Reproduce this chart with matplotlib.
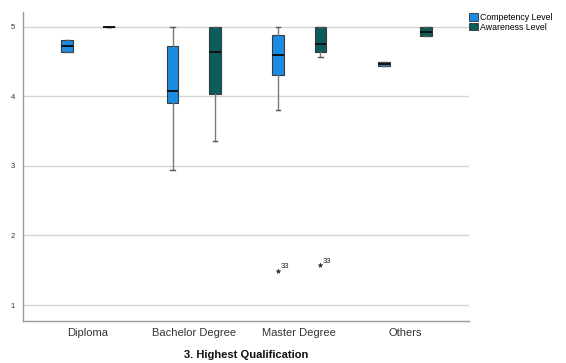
import matplotlib
matplotlib.use("Agg")
import matplotlib.pyplot as plt
from matplotlib.patches import Patch

plt.rcParams['font.family'] = ['Liberation Sans', 'DejaVu Sans']

categories = ["Diploma", "Bachelor Degree", "Master Degree", "Others"]
series = ["Competency Level", "Awareness Level"]
colors = ["#1a8de3", "#0a5d5b"]

# five-number summaries per category [whislo, q1, med, q3, whishi]
comp_whislo = [4.63, 2.94, 3.81, 4.435]
comp_q1 = [4.63, 3.91, 4.31, 4.435]
comp_med = [4.72, 4.07, 4.60, 4.47]
comp_q3 = [4.81, 4.72, 4.885, 4.50]
comp_whishi = [4.81, 5.0, 5.0, 4.50]
comp_fliers = [[], [], [1.49], []]

aw_whislo = [5.0, 3.36, 4.57, 4.86]
aw_q1 = [5.0, 4.03, 4.64, 4.86]
aw_med = [5.0, 4.64, 4.75, 4.93]
aw_q3 = [5.0, 5.0, 5.0, 5.0]
aw_whishi = [5.0, 5.0, 5.0, 5.0]
aw_fliers = [[], [], [1.57], []]

outlier_label = "33"
yticks = [1, 2, 3, 4, 5]
xlabel = "3. Highest Qualification"

fig = plt.figure(figsize=(5.66, 3.63), dpi=100)
ax = fig.add_axes([0.0406, 0.1157, 0.788, 0.852])

def stats_for(wl, q1, md, q3, wh):
    out = []
    for i in range(len(wl)):
        out.append(dict(whislo=wl[i], q1=q1[i], med=md[i], q3=q3[i], whishi=wh[i], fliers=[]))
    return out

offset = 0.2
width = 0.11
groups = [
    (stats_for(comp_whislo, comp_q1, comp_med, comp_q3, comp_whishi), comp_fliers, -offset, colors[0]),
    (stats_for(aw_whislo, aw_q1, aw_med, aw_q3, aw_whishi), aw_fliers, offset, colors[1]),
]
for st, fl, off, col in groups:
    pos = [i + off for i in range(len(categories))]
    ax.bxp(st, positions=pos, widths=width, patch_artist=True, showfliers=False,
           boxprops=dict(facecolor=col, edgecolor="#3a3a3a", linewidth=0.8),
           medianprops=dict(color="#111111", linewidth=1.4),
           whiskerprops=dict(color="#7a7a7a", linewidth=1.0),
           capprops=dict(color="#5a5a5a", linewidth=1.0),
           capwidths=0.04, manage_ticks=False, zorder=3)
    for i, vals in enumerate(fl):
        for v in vals:
            ax.plot(pos[i], v, marker="*", color="#222222", markersize=3.5,
                    markeredgewidth=0.3, linestyle="none", zorder=4)
            ax.annotate(outlier_label, (pos[i], v), xytext=(1.5, 2), textcoords="offset points",
                        fontsize=5.5, color="#222222")

ax.set_xlim(-0.615, 3.605)
ax.set_ylim(0.77, 5.216)
ax.set_yticks(yticks)
ax.set_yticklabels([str(t) for t in yticks], fontsize=5.5, color="#333333")
ax.set_xticks(range(len(categories)))
ax.set_xticklabels(categories, fontsize=8, color="#333333")
ax.tick_params(axis="x", length=0, pad=5)
ax.tick_params(axis="y", length=0, pad=6)
ax.yaxis.grid(True, color="#d4d4d4", linewidth=1.0, zorder=0)
ax.set_axisbelow(True)
for s in ["top", "right"]:
    ax.spines[s].set_visible(False)
for s in ["left", "bottom"]:
    ax.spines[s].set_color("#999999")
    ax.spines[s].set_linewidth(1.0)
ax.set_xlabel(xlabel, fontsize=8, fontweight="bold", labelpad=9, color="#111111")

handles = [Patch(facecolor=colors[i], edgecolor="#333333", linewidth=0.6, label=series[i]) for i in range(2)]
fig.legend(handles=handles, loc="upper left", bbox_to_anchor=(0.826, 0.97), frameon=False,
           fontsize=6.3, handlelength=1.0, handleheight=1.0, handletextpad=0.2,
           labelspacing=0.1, borderaxespad=0, borderpad=0.2)

fig.savefig("out.png", dpi=100)
